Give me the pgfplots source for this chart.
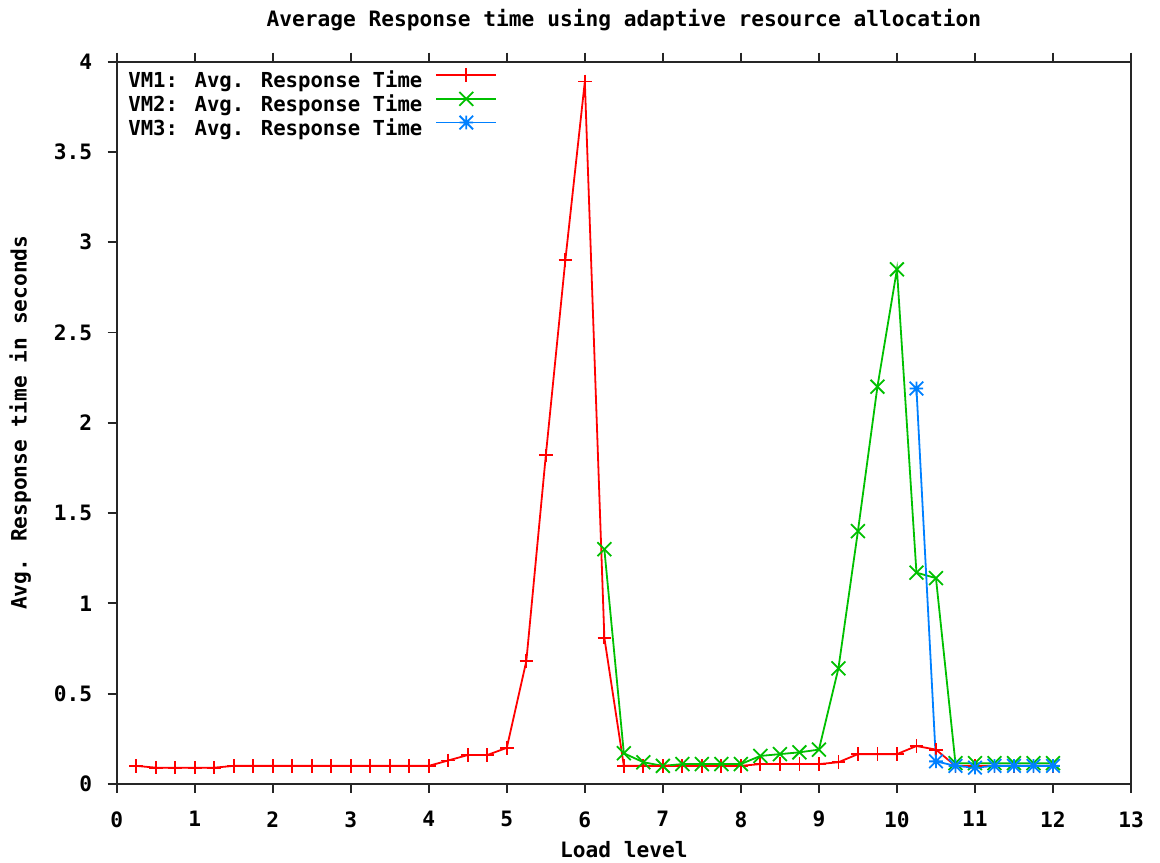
\documentclass[border=0pt]{standalone}
\usepackage{fontspec}
\setmainfont{DejaVu Sans Mono}
\usepackage{pgfplots}
\pgfplotsset{compat=1.18}
\usepackage{pgfplotstable}

\definecolor{gpred}{RGB}{255,0,0}
\definecolor{gpgreen}{RGB}{0,192,0}
\definecolor{gpblue}{RGB}{0,128,255}

\pgfdeclareplotmark{gpstar}{%
  \pgfpathmoveto{\pgfqpoint{-\pgfplotmarksize}{0pt}}\pgfpathlineto{\pgfqpoint{\pgfplotmarksize}{0pt}}%
  \pgfpathmoveto{\pgfqpoint{0pt}{-\pgfplotmarksize}}\pgfpathlineto{\pgfqpoint{0pt}{\pgfplotmarksize}}%
  \pgfpathmoveto{\pgfqpoint{-\pgfplotmarksize}{-\pgfplotmarksize}}\pgfpathlineto{\pgfqpoint{\pgfplotmarksize}{\pgfplotmarksize}}%
  \pgfpathmoveto{\pgfqpoint{-\pgfplotmarksize}{\pgfplotmarksize}}\pgfpathlineto{\pgfqpoint{\pgfplotmarksize}{-\pgfplotmarksize}}%
  \pgfusepathqstroke}

\pgfplotstableread{
x y
0.25 0.10
0.50 0.09
0.75 0.09
1.00 0.09
1.25 0.09
1.50 0.10
1.75 0.10
2.00 0.10
2.25 0.10
2.50 0.10
2.75 0.10
3.00 0.10
3.25 0.10
3.50 0.10
3.75 0.10
4.00 0.10
4.25 0.13
4.50 0.16
4.75 0.16
5.00 0.20
5.25 0.68
5.50 1.82
5.75 2.90
6.00 3.89
6.25 0.81
6.50 0.10
6.75 0.10
7.00 0.10
7.25 0.10
7.50 0.10
7.75 0.10
8.00 0.10
8.25 0.11
8.50 0.11
8.75 0.11
9.00 0.11
9.25 0.12
9.50 0.165
9.75 0.165
10.00 0.165
10.25 0.21
10.50 0.19
10.75 0.10
11.00 0.10
11.25 0.10
11.50 0.10
11.75 0.10
12.00 0.10
}\vmone

\pgfplotstableread{
x y
6.25 1.30
6.50 0.17
6.75 0.12
7.00 0.10
7.25 0.11
7.50 0.11
7.75 0.11
8.00 0.11
8.25 0.155
8.50 0.165
8.75 0.175
9.00 0.19
9.25 0.64
9.50 1.40
9.75 2.20
10.00 2.85
10.25 1.17
10.50 1.14
10.75 0.115
11.00 0.115
11.25 0.115
11.50 0.115
11.75 0.115
12.00 0.115
}\vmtwo

\pgfplotstableread{
x y
10.25 2.19
10.50 0.125
10.75 0.10
11.00 0.09
11.25 0.10
11.50 0.10
11.75 0.10
12.00 0.10
}\vmthree

\begin{document}
\bfseries\fontsize{10.6}{12.7}\selectfont
\begin{tikzpicture}
\begin{axis}[
  scale only axis,
  width=507.2pt, height=361.15pt,
  xmin=0, xmax=13, ymin=0, ymax=4,
  xtick={0,1,...,13},
  ytick={0,0.5,...,4},
  /pgf/number format/assume math mode=true,
  /pgf/number format/fixed,
  tick align=outside,
  xtick pos=both,
  ytick pos=left,
  major tick length=4.5pt,
  axis line style={line width=0.9pt, black!85},
  every tick/.style={line width=0.9pt, black!85},
  font=\bfseries\fontsize{10.6}{12.7}\selectfont,
  xticklabel style={yshift=-5.5pt},
  yticklabel style={xshift=-4pt},
  every axis title shift=0pt,
  title={Average Response time using adaptive resource allocation},
  title style={at={(axis description cs:0.5,1.0494)}, anchor=base},
  xlabel={Load level},
  xlabel style={at={(axis description cs:0.5,-0.1024)}, anchor=base},
  ylabel={Avg. Response time in seconds},
  ylabel style={at={(axis description cs:-0.0887,0.5)}, anchor=base, rotate=0},
  legend plot pos=right,
  legend cell align=left,
  legend style={at={(axis description cs:0.0111,0.9915)}, anchor=north west,
    draw=none, fill=none, inner sep=0pt, row sep=-0.5pt, column sep=6.5pt,
    nodes={inner sep=0pt, text height=8pt, text depth=2.5pt},
    font=\bfseries\fontsize{10.32}{12.4}\selectfont},
  legend image code/.code={\draw[mark repeat=2, mark phase=2] plot coordinates {(0pt,3.7pt) (15pt,3.7pt) (30pt,3.7pt)};},
  every axis plot/.append style={line width=0.9pt},
]
\addplot[color=gpred, mark=+, mark size=3.4pt] table[x=x,y=y] {\vmone};
\addlegendentry{VM1: Avg. Response Time}
\addplot[color=gpgreen, mark=x, mark size=4.9pt] table[x=x,y=y] {\vmtwo};
\addlegendentry{VM2: Avg. Response Time}
\addplot[color=gpblue, mark=gpstar, mark size=3.4pt] table[x=x,y=y] {\vmthree};
\addlegendentry{VM3: Avg. Response Time}
\end{axis}
\pgfresetboundingbox
\path ([xshift=-58.35pt,yshift=-39.5pt]current axis.south west) rectangle ([xshift=14.5pt,yshift=30.85pt]current axis.north east);
\end{tikzpicture}
\end{document}
